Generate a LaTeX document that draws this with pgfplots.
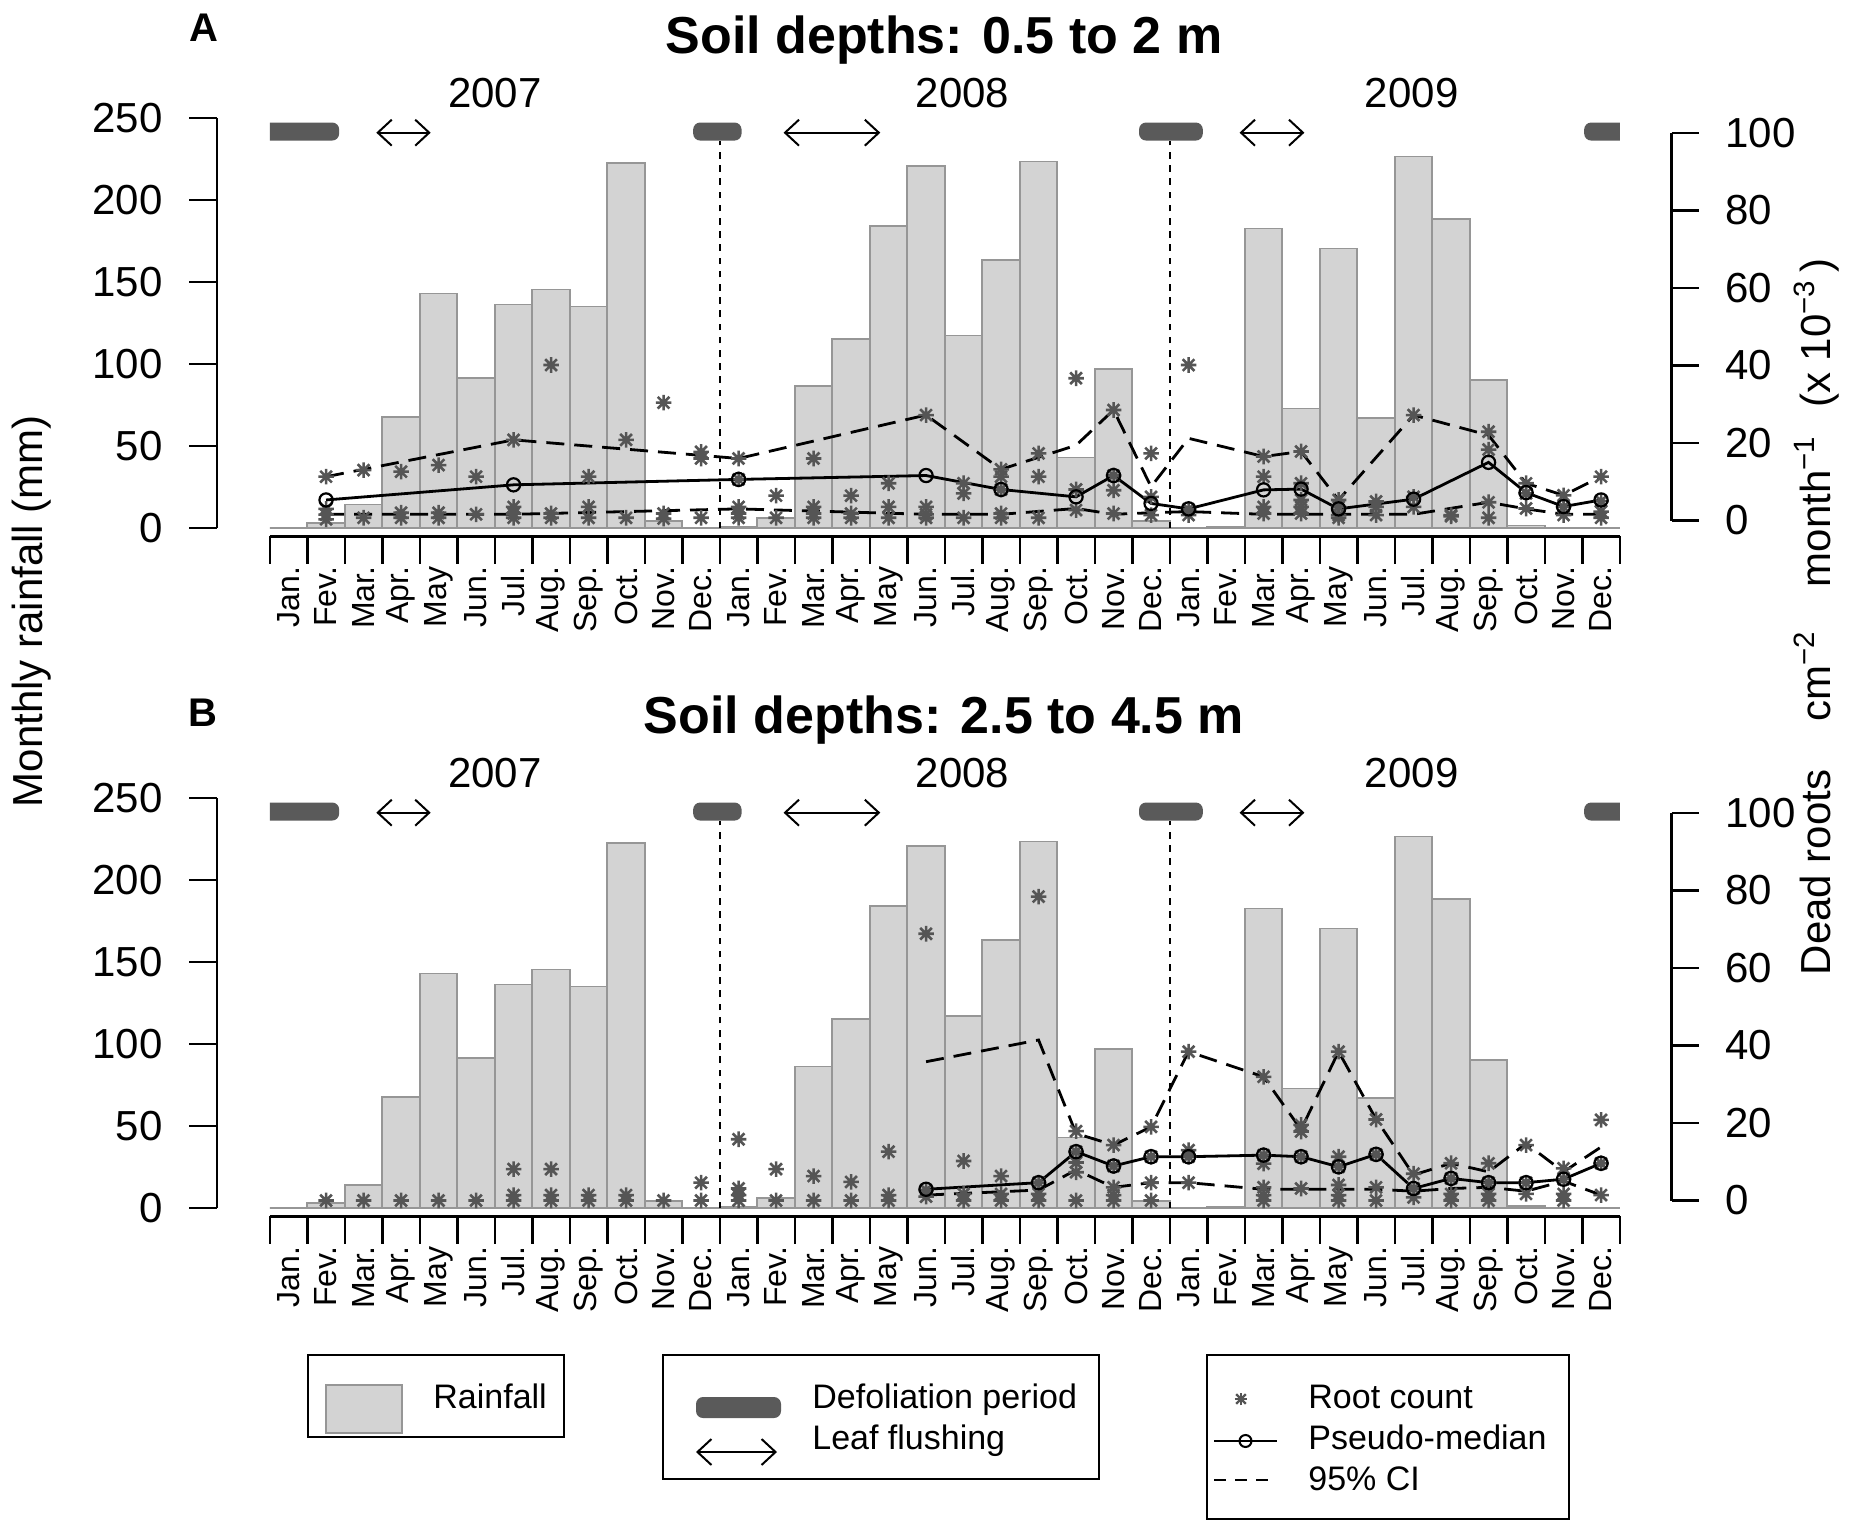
\documentclass[border=0pt]{standalone}
\usepackage{fontspec}
\setmainfont{Liberation Sans}
\usepackage{pgfplots}
\usepackage{pgfplotstable}
\pgfplotsset{compat=1.18}
\usetikzlibrary{arrows.meta}

\definecolor{barfill}{RGB}{211,211,211}
\definecolor{barline}{RGB}{150,150,150}
\definecolor{astcol}{RGB}{85,85,85}
\definecolor{defol}{RGB}{90,90,90}

\pgfdeclareplotmark{rast}{%
  \pgfpathmoveto{\pgfqpoint{0pt}{\pgfplotmarksize}}%
  \pgfpathlineto{\pgfqpoint{0pt}{-\pgfplotmarksize}}%
  \pgfpathmoveto{\pgfqpoint{\pgfplotmarksize}{0pt}}%
  \pgfpathlineto{\pgfqpoint{-\pgfplotmarksize}{0pt}}%
  \pgfpathmoveto{\pgfqpoint{0.75\pgfplotmarksize}{0.75\pgfplotmarksize}}%
  \pgfpathlineto{\pgfqpoint{-0.75\pgfplotmarksize}{-0.75\pgfplotmarksize}}%
  \pgfpathmoveto{\pgfqpoint{-0.75\pgfplotmarksize}{0.75\pgfplotmarksize}}%
  \pgfpathlineto{\pgfqpoint{0.75\pgfplotmarksize}{-0.75\pgfplotmarksize}}%
  \pgfusepathqstroke}

\newcommand\fnum{\fontsize{21pt}{25pt}\selectfont}
\newcommand\fmon{\fontsize{16pt}{19pt}\selectfont}
\newcommand\ftitle{\fontsize{26pt}{31pt}\selectfont\bfseries}
\newcommand\fleg{\fontsize{17pt}{20pt}\selectfont}
\newcommand\fpanel{\fontsize{20pt}{24pt}\selectfont\bfseries}

\pgfplotstableread{
x mm
0.5 0
1.5 3.2
2.5 14.3
3.5 67.6
4.5 143
5.5 91.4
6.5 136.2
7.5 145.5
8.5 135
9.5 222.5
10.5 4.2
11.5 0
12.5 0.8
13.5 6
14.5 86.4
15.5 115.1
16.5 184.2
17.5 220.8
18.5 117.3
19.5 163.3
20.5 223.4
21.5 43.1
22.5 96.9
23.5 4.5
24.5 0
25.5 0.5
26.5 182.6
27.5 72.9
28.5 170.5
29.5 66.9
30.5 226.4
31.5 188.4
32.5 90.3
33.5 1.5
34.5 0
35.5 0
}\raintab

\pgfplotsset{panel/.style={scale only axis, width=727.35pt, height=213.3pt,
  xmin=-1.408, xmax=37.384, hide axis, clip=false, anchor=south west}}

\newcommand\mlab[2]{\node[yshift=-15pt,rotate=90,anchor=east,inner sep=0pt,font=\fmon] at (axis cs:#1,-5) {#2};}
\newcommand\monthlabels{%
\mlab{0.5}{Jan.}\mlab{1.5}{Fev.}\mlab{2.5}{Mar.}\mlab{3.5}{Apr.}\mlab{4.5}{May}\mlab{5.5}{Jun.}%
\mlab{6.5}{Jul.}\mlab{7.5}{Aug.}\mlab{8.5}{Sep.}\mlab{9.5}{Oct.}\mlab{10.5}{Nov.}\mlab{11.5}{Dec.}%
\mlab{12.5}{Jan.}\mlab{13.5}{Fev.}\mlab{14.5}{Mar.}\mlab{15.5}{Apr.}\mlab{16.5}{May}\mlab{17.5}{Jun.}%
\mlab{18.5}{Jul.}\mlab{19.5}{Aug.}\mlab{20.5}{Sep.}\mlab{21.5}{Oct.}\mlab{22.5}{Nov.}\mlab{23.5}{Dec.}%
\mlab{24.5}{Jan.}\mlab{25.5}{Fev.}\mlab{26.5}{Mar.}\mlab{27.5}{Apr.}\mlab{28.5}{May}\mlab{29.5}{Jun.}%
\mlab{30.5}{Jul.}\mlab{31.5}{Aug.}\mlab{32.5}{Sep.}\mlab{33.5}{Oct.}\mlab{34.5}{Nov.}\mlab{35.5}{Dec.}}

\newcommand\rainaxis[1]{%
\begin{axis}[panel, at={(108.5pt,#1)}, ymin=-5, ymax=255]
\addplot[ybar, bar width=1, bar shift=0pt, fill=barfill, draw=barline, line width=0.85pt] table[x=x,y=mm] {\raintab};
\draw[barline, line width=1.3pt] (axis cs:0,0) -- (axis cs:36,0);
% left axis
\draw[line width=1.3pt] (axis cs:-1.408,0) -- (axis cs:-1.408,250);
\pgfplotsinvokeforeach{0,50,100,150,200,250}{%
  \draw[line width=1.3pt] (axis cs:-1.408,##1) -- ++(-13.8pt,0pt);
  \node[anchor=east, inner sep=0pt, xshift=-27pt, font=\fnum] at (axis cs:-1.408,##1) {##1};}
% bottom axis
\draw[line width=1.3pt] (axis cs:0,-5) -- (axis cs:36,-5);
\pgfplotsinvokeforeach{0,...,36}{%
  \draw[line width=1.3pt] (axis cs:##1,-5) -- ++(0pt,-14pt);}
\monthlabels
% defoliation periods
\begin{scope}
\clip (axis cs:0,0) rectangle (axis cs:36,255);
\fill[defol, rounded corners=3.5pt] (axis cs:-1,236.2) rectangle (axis cs:1.85,247.2);
\fill[defol, rounded corners=3.5pt] (axis cs:11.29,236.2) rectangle (axis cs:12.58,247.2);
\fill[defol, rounded corners=3.5pt] (axis cs:23.18,236.2) rectangle (axis cs:24.88,247.2);
\fill[defol, rounded corners=3.5pt] (axis cs:35.05,236.2) rectangle (axis cs:37,247.2);
\end{scope}
\draw[line width=1.2pt, dash pattern=on 3.3pt off 3.3pt] (axis cs:12,0) -- (axis cs:12,236.2);
\draw[line width=1.2pt, dash pattern=on 3.3pt off 3.3pt] (axis cs:24,0) -- (axis cs:24,236.2);
% leaf flushing
\draw[line width=1pt, {Straight Barb[length=7pt,width=13pt]}-{Straight Barb[length=7pt,width=13pt]}] (axis cs:2.84,241) -- (axis cs:4.29,241);
\draw[line width=1pt, {Straight Barb[length=7pt,width=13pt]}-{Straight Barb[length=7pt,width=13pt]}] (axis cs:13.70,241) -- (axis cs:16.28,241);
\draw[line width=1pt, {Straight Barb[length=7pt,width=13pt]}-{Straight Barb[length=7pt,width=13pt]}] (axis cs:25.86,241) -- (axis cs:27.59,241);
% years
\node[anchor=base, inner sep=0pt, font=\fnum] at (axis cs:6,256.6) {2007};
\node[anchor=base, inner sep=0pt, font=\fnum] at (axis cs:18.47,256.6) {2008};
\node[anchor=base, inner sep=0pt, font=\fnum] at (axis cs:30.45,256.6) {2009};
\end{axis}}

\newcommand\rightaxis{%
\draw[line width=1.3pt] (axis cs:37.384,0) -- (axis cs:37.384,100);
\pgfplotsinvokeforeach{0,20,40,60,80,100}{%
  \draw[line width=1.3pt] (axis cs:37.384,##1) -- ++(13.6pt,0pt);
  \node[anchor=west, inner sep=0pt, xshift=26.6pt, font=\fnum] at (axis cs:37.384,##1) {##1};}}

\pgfplotsset{
  astp/.style={only marks, mark=rast, mark size=3.9pt, color=astcol, mark options={line width=1.3pt}},
  cip/.style={black, line width=1.4pt, dash pattern=on 9pt off 5pt},
  medp/.style={black, line width=1.4pt, mark=o, mark size=3.3pt, mark options={solid, line width=1.1pt}}
}

\begin{document}
\begin{tikzpicture}
\useasboundingbox (0pt,0pt) rectangle (924.5pt,-766pt);

%================ Panel A =================
\rainaxis{-268.15pt}
\begin{axis}[panel, at={(108.5pt,-268.15pt)}, ymin=-4.075, ymax=105.96]
\addplot[astp] coordinates {
(1.5,11.3)(1.5,3)(1.5,1.5)(1.5,0.3)
(2.5,13.0)(2.5,0.7)
(3.5,12.6)(3.5,2.0)(3.5,0.7)
(4.5,14.3)(4.5,2.0)(4.5,0.7)
(5.5,11.3)(5.5,1.6)
(6.5,20.8)(6.5,3.5)(6.5,1.8)(6.5,0.7)
(7.5,40.1)(7.5,1.8)(7.5,0.7)
(8.5,11.3)(8.5,3.5)(8.5,0.7)
(9.5,20.8)(9.5,0.7)
(10.5,30.4)(10.5,1.8)(10.5,0.5)
(11.5,17.7)(11.5,16.0)(11.5,0.7)
(12.5,16.0)(12.5,10.6)(12.5,3.5)(12.5,1.8)(12.5,0.7)
(13.5,6.4)(13.5,0.7)
(14.5,16.0)(14.5,3.5)(14.5,1.8)(14.5,0.7)
(15.5,6.4)(15.5,1.8)(15.5,0.7)
(16.5,9.6)(16.5,3.5)(16.5,0.7)
(17.5,27.2)(17.5,3.5)(17.5,1.6)(17.5,0.7)
(18.5,9.6)(18.5,7.0)(18.5,0.7)
(19.5,13.2)(19.5,11.3)(19.5,8.0)(19.5,1.8)(19.5,0.7)
(20.5,17.3)(20.5,11.3)(20.5,0.7)
(21.5,36.7)(21.5,8.0)(21.5,2.7)
(22.5,28.5)(22.5,11.6)(22.5,7.8)(22.5,1.8)
(23.5,17.3)(23.5,6.1)(23.5,1.4)
(24.5,40.1)(24.5,2.9)(24.5,1.4)
(26.5,16.5)(26.5,11.3)(26.5,3.5)(26.5,1.8)
(27.5,17.8)(27.5,9.6)(27.5,5.3)(27.5,3.5)(27.5,1.8)
(28.5,5.3)(28.5,3.5)(28.5,1.4)(28.5,0.7)
(29.5,4.9)(29.5,3.5)(29.5,1.4)
(30.5,27.2)(30.5,6.1)(30.5,3.5)
(31.5,1.4)(31.5,1.1)
(32.5,22.9)(32.5,18.3)(32.5,4.7)(32.5,0.7)
(33.5,9.6)(33.5,7.0)(33.5,3.1)
(34.5,6.5)(34.5,3.5)(34.5,1.4)
(35.5,11.3)(35.5,5.0)(35.5,2.3)(35.5,0.7)
};
\addplot[cip] coordinates {(1.5,11.3)(6.5,20.8)(12.5,16.0)(17.5,27.2)(19.5,13.2)(21.5,19.4)(22.5,28.5)(23.5,8.7)(24.5,21.2)(26.5,16.5)(27.5,17.8)(28.5,5.3)(30.5,27.2)(32.5,22.0)(33.5,9.6)(34.5,6.5)(35.5,11.3)};
\addplot[cip] coordinates {(1.5,1.6)(6.5,1.6)(12.5,3.0)(17.5,1.6)(19.5,1.6)(21.5,3.1)(22.5,1.6)(23.5,2.0)(24.5,2.3)(26.5,1.6)(27.5,1.6)(28.5,1.6)(30.5,1.6)(32.5,4.7)(33.5,3.0)(34.5,1.6)(35.5,1.6)};
\addplot[medp] coordinates {(1.5,5.3)(6.5,9.2)(12.5,10.6)(17.5,11.6)(19.5,8.0)(21.5,6.1)(22.5,11.6)(23.5,4.4)(24.5,3.0)(26.5,7.9)(27.5,8.1)(28.5,3.0)(30.5,5.5)(32.5,15.0)(33.5,7.2)(34.5,3.6)(35.5,5.3)};
\rightaxis
\end{axis}

%================ Panel B =================
\rainaxis{-608.15pt}
\begin{axis}[panel, at={(108.5pt,-608.15pt)}, ymin=-4.075, ymax=105.96]
\addplot[astp] coordinates {
(1.5,0)(2.5,0)(3.5,0)(4.5,0)(5.5,0)
(6.5,8.1)(6.5,1.4)(6.5,0)
(7.5,8.1)(7.5,1.4)(7.5,0)
(8.5,1.4)(8.5,0)
(9.5,1.4)(9.5,0)
(10.5,0)
(11.5,4.6)(11.5,0)
(12.5,15.8)(12.5,3.1)(12.5,1.4)(12.5,0)
(13.5,8.1)(13.5,0)
(14.5,6.3)(14.5,0)
(15.5,4.8)(15.5,0)
(16.5,12.6)(16.5,1.4)(16.5,0)
(17.5,68.8)(17.5,2.7)(17.5,1.0)
(18.5,10.2)(18.5,1.7)(18.5,0)
(19.5,6.3)(19.5,1.7)(19.5,0)
(20.5,78.4)(20.5,4.6)(20.5,1.7)(20.5,0)
(21.5,17.9)(21.5,12.6)(21.5,9.8)(21.5,7.3)(21.5,0)
(22.5,14.3)(22.5,8.9)(22.5,3.4)(22.5,1.4)(22.5,0)
(23.5,19.0)(23.5,11.3)(23.5,4.6)(23.5,0)
(24.5,38.4)(24.5,13.0)(24.5,11.3)(24.5,4.6)
(26.5,31.9)(26.5,11.7)(26.5,9.5)(26.5,3.4)(26.5,1.4)(26.5,0)
(27.5,19.5)(27.5,17.8)(27.5,11.3)(27.5,3.1)
(28.5,38.4)(28.5,11.3)(28.5,8.7)(28.5,4.0)(28.5,1.4)(28.5,0)
(29.5,20.9)(29.5,11.9)(29.5,3.4)(29.5,0)
(30.5,6.9)(30.5,3.1)(30.5,0.8)
(31.5,9.6)(31.5,5.7)(31.5,1.7)(31.5,0)
(32.5,9.6)(32.5,4.6)(32.5,1.7)(32.5,0)
(33.5,14.3)(33.5,4.6)(33.5,1.7)
(34.5,8.3)(34.5,5.5)(34.5,1.7)(34.5,0)
(35.5,20.8)(35.5,9.6)(35.5,1.4)
};
\addplot[cip] coordinates {(17.5,35.8)(20.5,41.4)(21.5,17.3)(22.5,14.3)(23.5,19.0)(24.5,38.4)(26.5,31.9)(27.5,18.3)(28.5,38.4)(29.5,21.0)(30.5,6.6)(31.5,9.6)(32.5,7.4)(33.5,14.7)(34.5,7.4)(35.5,13.8)};
\addplot[cip] coordinates {(17.5,1.4)(20.5,2.7)(21.5,7.9)(22.5,3.4)(23.5,4.6)(24.5,4.6)(26.5,2.9)(27.5,2.9)(28.5,2.9)(29.5,2.9)(30.5,2.4)(31.5,3.1)(32.5,3.4)(33.5,2.4)(34.5,5.0)(35.5,1.4)};
\addplot[medp] coordinates {(17.5,2.9)(20.5,4.6)(21.5,12.6)(22.5,8.9)(23.5,11.3)(24.5,11.3)(26.5,11.7)(27.5,11.3)(28.5,8.7)(29.5,11.9)(30.5,3.1)(31.5,5.7)(32.5,4.6)(33.5,4.6)(34.5,5.5)(35.5,9.6)};
\rightaxis
\end{axis}

%================ titles and labels =================
\node[anchor=base, inner sep=0pt, font=\ftitle] at (472pt,-26.5pt) {Soil depths: 0.5 to 2 m};
\node[anchor=base, inner sep=0pt, font=\ftitle] at (472pt,-366.5pt) {Soil depths: 2.5 to 4.5 m};
\node[anchor=base west, inner sep=0pt, font=\fpanel] at (94.5pt,-20.5pt) {A};
\node[anchor=base west, inner sep=0pt, font=\fpanel] at (94pt,-363pt) {B};
\node[rotate=90, anchor=base, inner sep=0pt, font=\fnum] at (21pt,-305.5pt) {Monthly rainfall (mm)};
\node[rotate=90, anchor=base, inner sep=0pt, font=\fnum] at (915pt,-308.5pt)
  {Dead roots\hspace{24pt}cm\textsuperscript{−2}\hspace{22pt}month\textsuperscript{−1}\hspace{14pt}(x 10\textsuperscript{−3}\,)};

%================ legends =================
\draw[line width=1pt] (154pt,-677.5pt) rectangle (282pt,-718.5pt);
\draw[fill=barfill, draw=barline, line width=1pt] (163pt,-692.5pt) rectangle (201pt,-716.5pt);
\node[anchor=base west, inner sep=0pt, font=\fleg] at (216.5pt,-704pt) {Rainfall};

\draw[line width=1pt] (331.5pt,-677.5pt) rectangle (549.5pt,-739.5pt);
\fill[defol, rounded corners=3.5pt] (348pt,-698.5pt) rectangle (390.5pt,-709pt);
\node[anchor=base west, inner sep=0pt, font=\fleg] at (406pt,-704pt) {Defoliation period};
\draw[line width=1pt, {Straight Barb[length=7pt,width=13pt]}-{Straight Barb[length=7pt,width=13pt]}] (348pt,-726pt) -- (388.5pt,-726pt);
\node[anchor=base west, inner sep=0pt, font=\fleg] at (406pt,-724.5pt) {Leaf flushing};

\draw[line width=1pt] (603.5pt,-677.5pt) rectangle (784.5pt,-759.5pt);
\begin{scope}[shift={(620.5pt,-699.5pt)}, astcol, line width=1.2pt]
\draw (0pt,-3.2pt) -- (0pt,3.2pt);
\draw (-3.2pt,0pt) -- (3.2pt,0pt);
\draw (-2.4pt,-2.4pt) -- (2.4pt,2.4pt);
\draw (-2.4pt,2.4pt) -- (2.4pt,-2.4pt);
\end{scope}
\node[anchor=base west, inner sep=0pt, font=\fleg] at (654pt,-704pt) {Root count};
\draw[line width=1.2pt] (607pt,-720.5pt) -- (638.5pt,-720.5pt);
\draw[line width=1pt] (622.75pt,-720.5pt) circle (3pt);
\node[anchor=base west, inner sep=0pt, font=\fleg] at (654pt,-724.5pt) {Pseudo-median};
\draw[line width=1.2pt, dash pattern=on 6pt off 4.5pt] (607pt,-740pt) -- (638.5pt,-740pt);
\node[anchor=base west, inner sep=0pt, font=\fleg] at (654pt,-745pt) {95\% CI};
\end{tikzpicture}
\end{document}
